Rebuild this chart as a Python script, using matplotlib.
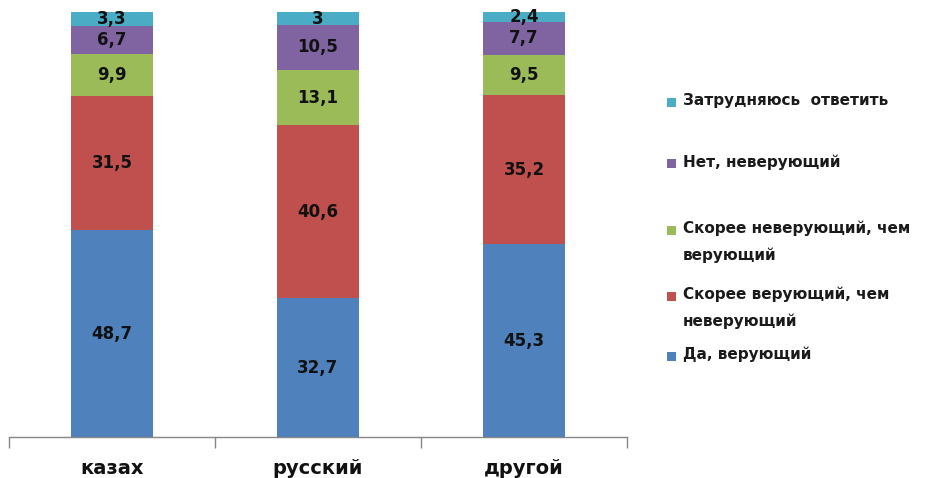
import matplotlib
matplotlib.use("Agg")
import matplotlib.pyplot as plt
from matplotlib.patches import Rectangle
import numpy as np

plt.rcParams['font.family'] = ['DejaVu Sans']

categories = ["казах", "русский", "другой"]
series_names = [
    "Да, верующий",
    "Скорее верующий, чем\nневерующий",
    "Скорее неверующий, чем\nверующий",
    "Нет, неверующий",
    "Затрудняюсь  ответить",
]
values = [
    [48.7, 32.7, 45.3],   # Да, верующий
    [31.5, 40.6, 35.2],   # Скорее верующий, чем неверующий
    [9.9, 13.1, 9.5],     # Скорее неверующий, чем верующий
    [6.7, 10.5, 7.7],     # Нет, неверующий
    [3.3, 3.0, 2.4],      # Затрудняюсь ответить
]
colors = ["#4F81BD", "#C0504D", "#9BBB59", "#8064A2", "#4BACC6"]

W, H = 926, 478
fig = plt.figure(figsize=(W / 100, H / 100), dpi=100)
ax = fig.add_axes([9 / W, 1 - 437 / H, 618 / W, 425 / H])

x = np.arange(len(categories))
bottom = np.zeros(len(categories))
for vals, col in zip(values, colors):
    vals = np.array(vals)
    ax.bar(x, vals, width=0.4, bottom=bottom, color=col, clip_on=False)
    for xi, b, v in zip(x, bottom, vals):
        label = ("%g" % v).replace(".", ",")
        ax.text(xi, b + v / 2, label, ha="center", va="center",
                fontsize=12, fontweight="bold", color="#111111")
    bottom += vals

ax.set_xlim(-0.5, 2.5)
ax.set_ylim(0, 100)
for s in ["top", "right", "left"]:
    ax.spines[s].set_visible(False)
ax.spines["bottom"].set_color("#868686")
ax.spines["bottom"].set_linewidth(1.0)
ax.set_yticks([])
ax.set_xticks(x)
ax.set_xticklabels(categories, fontsize=14, fontweight="bold", color="#111111")
ax.tick_params(axis="x", which="major", length=0, pad=16)
ax.set_xticks([-0.5, 0.5, 1.5, 2.5], minor=True)
ax.tick_params(axis="x", which="minor", length=8, width=1.0, color="#868686",
               direction="out")

# legend, drawn top to bottom in reverse series order
legend_y = [102, 163, 230, 296, 356]
entries = list(zip(series_names[::-1], colors[::-1]))
for (name, col), yy in zip(entries, legend_y):
    fig.patches.append(Rectangle((667 / W, 1 - (yy + 4.5) / H), 9 / W, 9 / H,
                                 transform=fig.transFigure, facecolor=col,
                                 edgecolor="none"))
    fig.text(683 / W, 1 - (yy - 9) / H, name, ha="left", va="top",
             fontsize=11, fontweight="bold", color="#1a1a1a",
             linespacing=1.88)

fig.savefig("out.png", dpi=100)
